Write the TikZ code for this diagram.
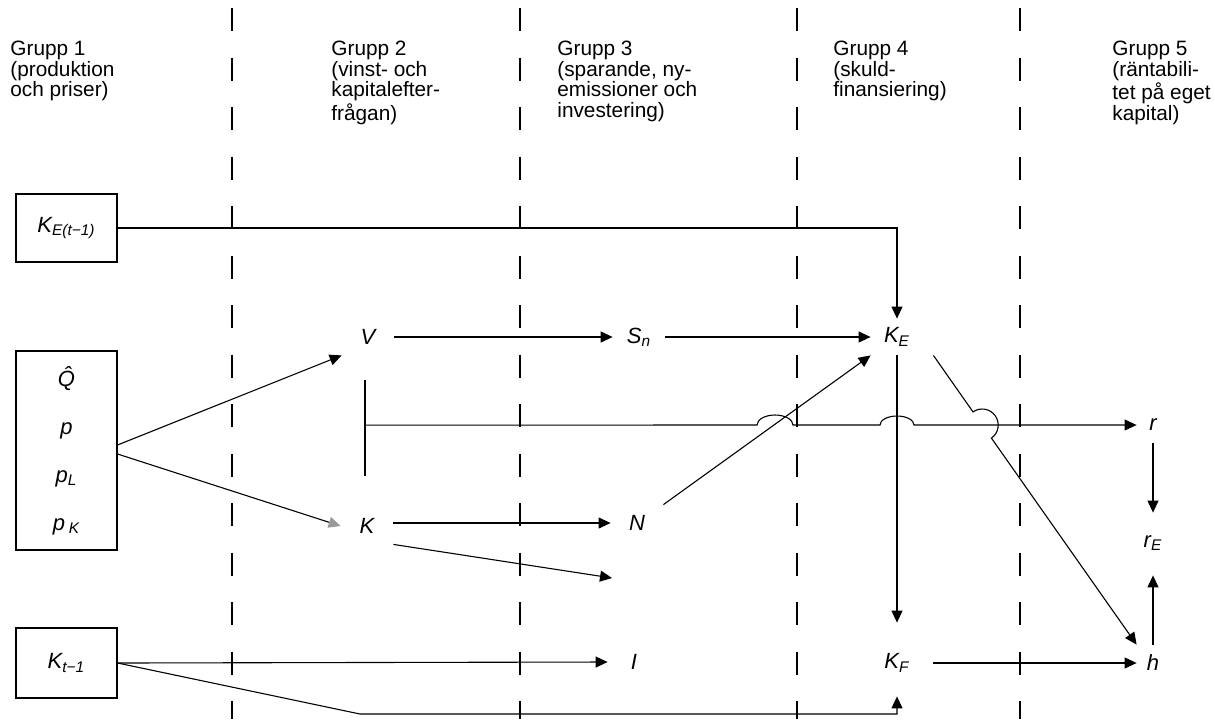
\documentclass[tikz,border=0pt]{standalone}
\usepackage{fontspec}
\setmainfont{Liberation Sans}
\usetikzlibrary{arrows.meta,calc}
\begin{document}
\begin{tikzpicture}[x=0.5pt,y=-0.5pt,
  every node/.style={inner sep=0pt, font=\fontsize{10.4}{10.25}\selectfont},
  lbl/.style={minimum width=26pt, minimum height=18pt, font=\fontsize{11}{11}\selectfont\itshape},
  slbl/.style={lbl, minimum width=16pt},
  box/.style={draw, line width=0.55pt, minimum width=50.5pt},
  conn/.style={line width=0.55pt},
  arr/.style={conn, -{Triangle[length=6pt,width=5.5pt]}},
  greyarr/.style={conn, -{Triangle[length=6pt,width=5.5pt,color=gray!80]}},
  grp/.style={anchor=north west, align=left},
  sepline/.style={line width=0.75pt, dash pattern=on 11.5pt off 13.25pt}]
\fill[white] (0,0) rectangle (1215,719);
\useasboundingbox (0,0) rectangle (1215,719);
% group separators
\foreach \x in {232,520,797,1020} \draw[sepline] (\x,8) -- (\x,719);
% headers
\node[grp] (g1) at (10,41) {Grupp 1\\(produktion\\och priser)};
\node[grp] (g2) at (331,41) {Grupp 2\\(vinst- och\\kapitalefter-\\frågan)};
\node[grp] (g3) at (557,41) {Grupp 3\\(sparande, ny-\\emissioner och\\investering)};
\node[grp] (g4) at (833,41) {Grupp 4\\(skuld-\\finansiering)};
\node[grp] (g5) at (1112,41) {Grupp 5\\(räntabili-\\tet på eget\\kapital)};
% boxes
\node[box, minimum height=34pt, font=\fontsize{11}{11}\selectfont\itshape] (KE1) at (66.5,228) {K\textsubscript{E(t−1)}};
\node[box, minimum height=99.5pt, align=center, font=\fontsize{11}{24}\selectfont\itshape] (B) at (66.5,450.5)
  {\^{Q}\\p\\p\textsubscript{L}\\p\,\textsubscript{K}};
\node[box, minimum height=35pt, font=\fontsize{11}{11}\selectfont\itshape] (Kt1) at (66.5,663) {K\textsubscript{t−1}};
% variables
\node[lbl] (V) at (368,337) {V};
\node[lbl] (K) at (367,526) {K};
\node[lbl] (Sn) at (639,337) {S\textsubscript{n}};
\node[lbl] (N) at (637,523) {N};
\node[lbl] (I) at (634,662) {I};
\node[lbl] (KE) at (897,337) {K\textsubscript{E}};
\node[lbl] (KF) at (897,663) {K\textsubscript{F}};
\node[slbl] (r) at (1153,425) {r};
\node[slbl] (rE) at (1153,543) {r\textsubscript{E}};
\node[slbl] (h) at (1153,663) {h};
\coordinate (Iin) at (612,578);
\coordinate (bend) at (360,714);
\coordinate (bt) at ($(V.south)+(-3,25)$);
\coordinate (bb) at ($(K.north)+(-2,-32)$);
\coordinate (bm) at ($(bt)!0.47!(bb)$);
% connectors
\draw[arr] (KE1.east) -| (KE.north);
\draw[arr] ($(B.east)+(0,-5.5)$) -- (V.south west);
\draw[greyarr] ($(B.east)+(0,3.5)$) -- (K.west);
\draw[arr] (V.east) -- (Sn.west);
\draw[arr] (Sn.east) -- (KE.west);
\draw[arr] (K.east |- N.west) -- (N.west);
\draw[arr] (K.south east) -- (Iin);
\draw[arr] (Kt1.east) -- (I.west);
\draw[arr] (Kt1.east) -- (bend) -| ($(KF.south)+(0,15)$);
\draw[arr] (N.north east) -- (KE.south west);
\draw[arr] (KE.south) -- ($(KF.north)+(0,-22)$);
\draw[arr] ($(KF.east)+(10,0)$) -- (h.west);
\draw[arr] (r.south) -- ($(rE.north)+(0,-12)$);
\draw[arr] (h.north) -- ($(rE.south)+(0,14)$);
% bracket joining V and K, and its line to r with hops
\draw[conn] (bt) -- (bb);
\draw[arr] (bm) -- (757,425)
  .. controls (757,419.5) and (765.1,415) .. (775,415)
  .. controls (784.9,415) and (793,419.5) .. (793,425)
  -- (880,425)
  .. controls (880,420) and (887.6,416) .. (897,416)
  .. controls (906.4,416) and (914,420) .. (914,425)
  -- (r.west);
% K_E to h with hop over the r line
\draw[arr] ($(KE.south east)+(10,0)$) -- (973.0,411.92)
  .. controls (980.23,406.83) and (990.19,408.57) .. (995.28,415.8)
  .. controls (1000.37,423.03) and (998.63,432.99) .. (991.4,438.08)
  -- (h.north west);
\end{tikzpicture}
\end{document}
